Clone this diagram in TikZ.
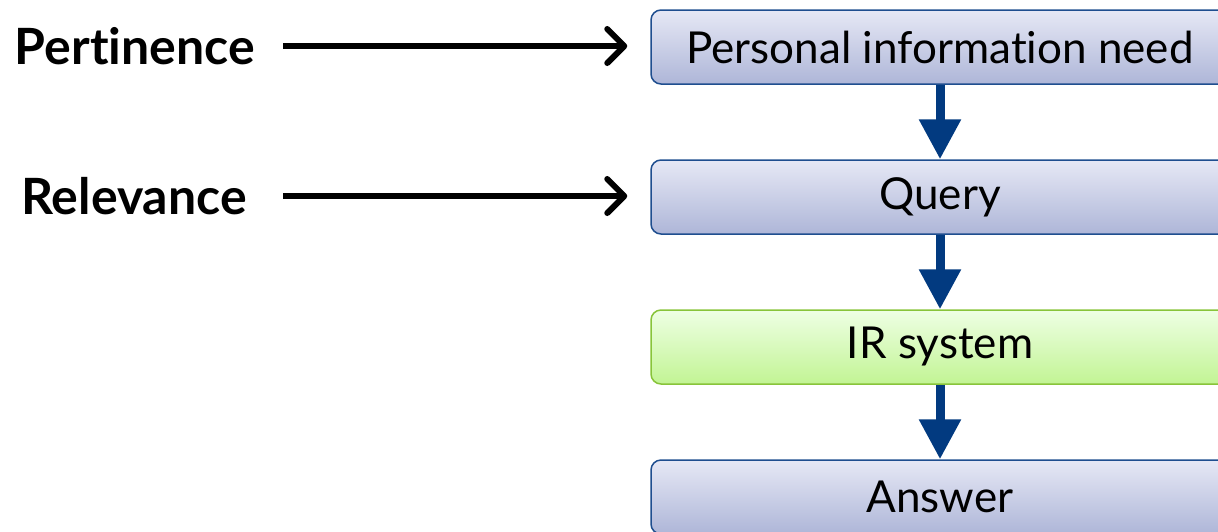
\documentclass[tikz,border=0pt]{standalone}
\usepackage{fontspec}
\setmainfont{Lato}[RawFeature={-liga;-clig;-dlig;-calt}]
\usetikzlibrary{arrows.meta}
\definecolor{boxborder}{HTML}{1F4E8F}
\definecolor{boxtop}{HTML}{E6E8F5}
\definecolor{boxbottom}{HTML}{AEB6D8}
\definecolor{greentop}{HTML}{EEFFE4}
\definecolor{greenbottom}{HTML}{C2F494}
\definecolor{greenborder}{HTML}{88C43A}
\definecolor{flowblue}{HTML}{023A80}
\tikzset{
  stagebox/.style={draw=boxborder, line width=1.5pt, rounded corners=10pt,
    top color=boxtop, bottom color=boxbottom, minimum width=578pt, minimum height=74pt,
    inner sep=0pt, font=\fontsize{44}{50}\selectfont, text=black},
  systembox/.style={stagebox, draw=greenborder, top color=greentop, bottom color=greenbottom},
  flow/.style={draw=flowblue, line width=9pt, -{Triangle[length=40pt,width=40pt]}, fill=flowblue},
  concept/.style={font=\fontsize{50}{56}\selectfont\bfseries, inner sep=0pt, anchor=east},
  pointer/.style={line width=6pt, -{Straight Barb[length=17pt,width=34pt,round]}, shorten <=28pt, shorten >=23pt}
}
\begin{document}
\begin{tikzpicture}[x=1pt,y=-1pt]
\useasboundingbox (0,0) rectangle (1218,531);
\clip (0,0) rectangle (1218,531);
\node[stagebox] (need) at (940,47) {Personal information need};
\node[stagebox] (query) at (940,197) {Query};
\node[systembox] (ir) at (940,347) {IR system};
\node[stagebox] (answer) at (940,497) {Answer};
\draw[flow] (need.south) -- (query.north);
\draw[flow] (query.south) -- (ir.north);
\draw[flow] (ir.south) -- (answer.north);
\node[concept] (pert) at (255,46) {Pertinence};
\node[concept] (rel) at (247,196) {Relevance};
\draw[pointer] (pert.east) -- (pert.east -| need.west);
\draw[pointer, shorten <=36pt] (rel.east) -- (rel.east -| query.west);
\end{tikzpicture}
\end{document}
